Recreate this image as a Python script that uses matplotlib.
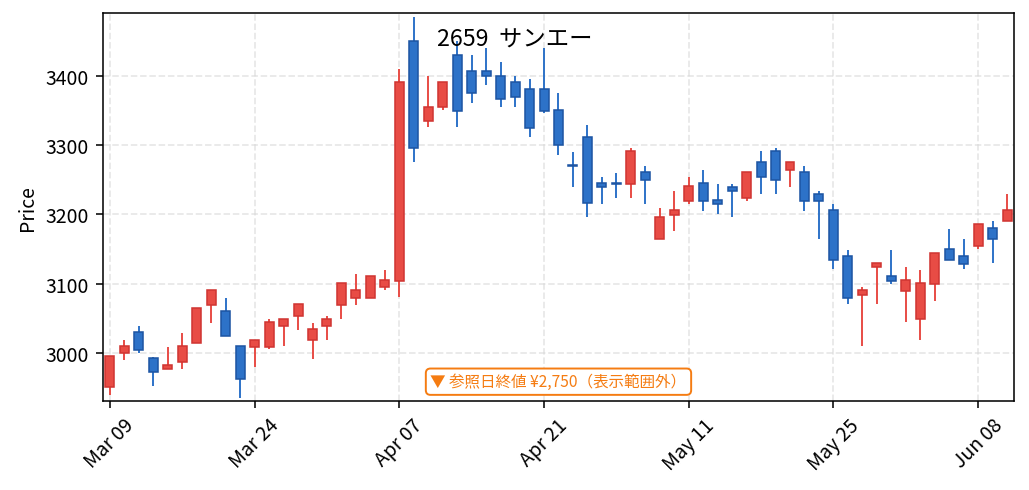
import matplotlib
matplotlib.use("Agg")
import matplotlib.pyplot as plt
import numpy as np

plt.rcParams['font.family'] = ['Noto Sans CJK JP', 'DejaVu Sans']

dates = ["Mar 09", "Mar 10", "Mar 11", "Mar 12", "Mar 13", "Mar 16", "Mar 17", "Mar 18", "Mar 19", "Mar 23",
         "Mar 24", "Mar 25", "Mar 26", "Mar 27", "Mar 30", "Mar 31", "Apr 01", "Apr 02", "Apr 03", "Apr 06",
         "Apr 07", "Apr 08", "Apr 09", "Apr 10", "Apr 13", "Apr 14", "Apr 15", "Apr 16", "Apr 17", "Apr 20",
         "Apr 21", "Apr 22", "Apr 23", "Apr 24", "Apr 27", "Apr 28", "Apr 30", "May 01", "May 07", "May 08",
         "May 11", "May 12", "May 13", "May 14", "May 15", "May 18", "May 19", "May 20", "May 21", "May 22",
         "May 25", "May 26", "May 27", "May 28", "May 29", "Jun 01", "Jun 02", "Jun 03", "Jun 04", "Jun 05",
         "Jun 08", "Jun 09", "Jun 10"]

opens = [2952, 3000, 3031, 2994, 2978, 2988, 3015, 3070, 3061, 3011,
         3009, 3009, 3040, 3054, 3020, 3040, 3070, 3080, 3080, 3095,
         3104, 3450, 3335, 3355, 3430, 3406, 3406, 3400, 3390, 3380,
         3380, 3350, 3271, 3311, 3245, 3245, 3244, 3261, 3165, 3199,
         3219, 3245, 3221, 3240, 3224, 3275, 3291, 3264, 3261, 3230,
         3206, 3140, 3084, 3125, 3111, 3090, 3050, 3100, 3150, 3140,
         3155, 3180, 3190]
highs = [2996, 3020, 3039, 2995, 3009, 3030, 3065, 3091, 3080, 3011,
         3020, 3050, 3050, 3071, 3044, 3054, 3101, 3115, 3111, 3120,
         3410, 3484, 3399, 3390, 3450, 3430, 3439, 3419, 3399, 3395,
         3439, 3375, 3290, 3329, 3254, 3260, 3295, 3270, 3210, 3234,
         3254, 3264, 3244, 3244, 3261, 3291, 3295, 3275, 3270, 3234,
         3215, 3149, 3095, 3130, 3149, 3125, 3120, 3145, 3179, 3165,
         3186, 3190, 3230]
lows = [2940, 2991, 3000, 2953, 2978, 2977, 3015, 3044, 3025, 2936,
        2981, 3006, 3010, 3034, 2992, 3020, 3050, 3070, 3080, 3091,
        3081, 3275, 3326, 3350, 3326, 3360, 3386, 3355, 3355, 3311,
        3346, 3285, 3240, 3196, 3215, 3224, 3224, 3215, 3165, 3176,
        3215, 3205, 3200, 3196, 3220, 3230, 3230, 3240, 3205, 3165,
        3121, 3071, 3010, 3071, 3100, 3045, 3020, 3075, 3135, 3121,
        3150, 3130, 3190]
closes = [2996, 3010, 3005, 2974, 2983, 3010, 3065, 3091, 3025, 2963,
          3020, 3045, 3050, 3071, 3035, 3050, 3101, 3091, 3111, 3105,
          3390, 3295, 3355, 3390, 3349, 3375, 3400, 3366, 3369, 3325,
          3349, 3300, 3270, 3216, 3240, 3244, 3291, 3250, 3196, 3206,
          3241, 3220, 3215, 3234, 3261, 3254, 3250, 3275, 3220, 3220,
          3135, 3080, 3091, 3130, 3104, 3105, 3101, 3145, 3135, 3129,
          3186, 3165, 3206]

title = "2659  サンエー"
note = "▼ 参照日終値 ¥2,750（表示範囲外）"

o = np.array(opens, float)
h = np.array(highs, float)
l = np.array(lows, float)
c = np.array(closes, float)
x = np.arange(len(o))
up = c >= o

up_face, up_edge = '#e84c45', '#d03532'
dn_face, dn_edge = '#2d72c8', '#1d55a3'

fig = plt.figure(figsize=(7.35, 3.507), dpi=140)
ax = fig.add_axes([0.0998, 0.1819, 0.8859, 0.7896])

ax.vlines(x[up], l[up], h[up], color=up_face, linewidth=1.0, zorder=2)
ax.vlines(x[~up], l[~up], h[~up], color=dn_face, linewidth=1.0, zorder=2)

body_h = np.maximum(np.abs(c - o), 0.8)
body_b = np.minimum(o, c)
w = 0.62
ax.bar(x[up], body_h[up], bottom=body_b[up], width=w, color=up_face,
       edgecolor=up_edge, linewidth=0.8, zorder=3)
ax.bar(x[~up], body_h[~up], bottom=body_b[~up], width=w, color=dn_face,
       edgecolor=dn_edge, linewidth=0.8, zorder=3)

ax.set_xlim(-0.5, len(x) - 0.5)
ax.set_ylim(2932, 3490)
tick_idx = list(range(0, len(x), 10))
ax.set_xticks(tick_idx)
ax.set_xticklabels([dates[i] for i in tick_idx], rotation=45)
ax.set_yticks([3000, 3100, 3200, 3300, 3400])
ax.set_ylabel("Price")
ax.grid(True, linestyle='--', color='#d8d8d8', alpha=0.6, linewidth=0.9)
ax.set_axisbelow(True)

ax.text(0.5, 0.049, note, transform=ax.transAxes, ha='center', va='center',
        fontsize=8, color='#f57c12',
        bbox=dict(boxstyle='round,pad=0.3', facecolor='white', edgecolor='#f57c12', linewidth=1.0))

fig.text(0.5, 1 - 40 / 491, title, ha='center', va='center', fontsize=12)

fig.savefig("out.png", dpi=140)
